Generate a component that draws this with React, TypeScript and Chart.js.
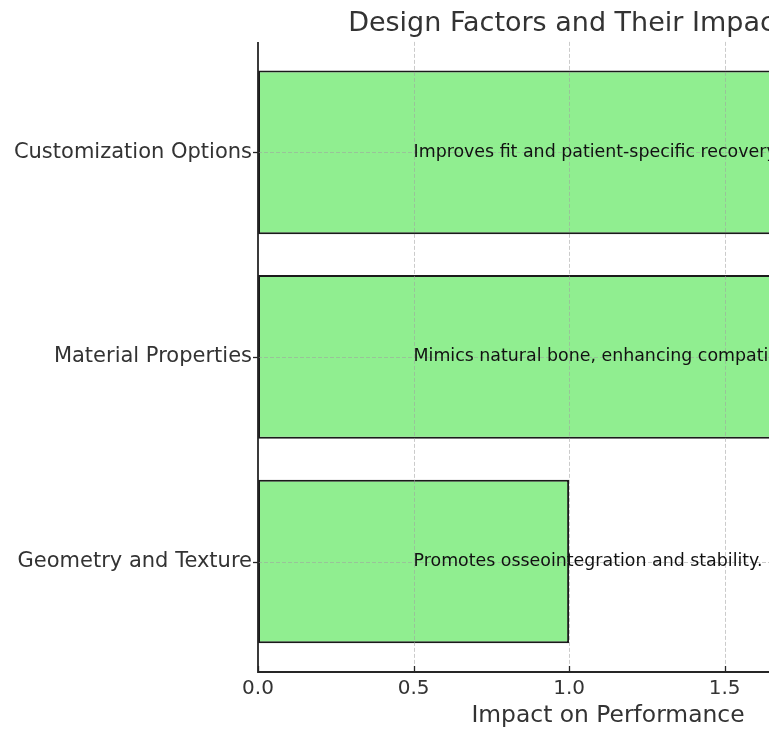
import React, { useEffect, useRef } from 'react';
import { Chart, registerables } from 'chart.js';

Chart.register(...registerables);

const categories = ['Geometry and Texture', 'Material Properties', 'Customization Options'];
const impactValues = [1, 2, 2];
const annotations = [
  'Promotes osseointegration and stability.',
  'Mimics natural bone, enhancing compatibility.',
  'Improves fit and patient-specific recovery.',
];
const annotationX = 0.5;
const xTickValues = [0, 0.5, 1.0, 1.5, 2.0];
const xMax = 2.25;
const chartTitle = 'Design Factors and Their Impact on Fit';
const xAxisTitle = 'Impact on Performance';

const FONT = "'DejaVu Sans', sans-serif";

const overlayPlugin = {
  id: 'overlay',
  afterDatasetsDraw(chart: any) {
    const { ctx, chartArea: a, scales } = chart;
    const xs = scales.x;
    const ys = scales.y;
    ctx.save();
    // grid lines over bars
    ctx.strokeStyle = 'rgba(160,160,160,0.55)';
    ctx.lineWidth = 1;
    ctx.setLineDash([4, 2]);
    xTickValues.forEach((v) => {
      if (v === 0) return;
      const px = Math.round(xs.getPixelForValue(v)) + 0.5;
      ctx.beginPath();
      ctx.moveTo(px, a.top);
      ctx.lineTo(px, a.bottom);
      ctx.stroke();
    });
    categories.forEach((_, i) => {
      const py = Math.round(ys.getPixelForValue(i)) + 0.5;
      ctx.beginPath();
      ctx.moveTo(a.left, py);
      ctx.lineTo(a.right, py);
      ctx.stroke();
    });
    ctx.setLineDash([]);
    // tick marks
    ctx.strokeStyle = '#262626';
    ctx.lineWidth = 1.3;
    categories.forEach((_, i) => {
      const py = Math.round(ys.getPixelForValue(i)) + 0.5;
      ctx.beginPath();
      ctx.moveTo(a.left - 5, py);
      ctx.lineTo(a.left, py);
      ctx.stroke();
    });
    xTickValues.forEach((v) => {
      const px = Math.round(xs.getPixelForValue(v)) + 0.5;
      ctx.beginPath();
      ctx.moveTo(px, a.bottom);
      ctx.lineTo(px, a.bottom - 6);
      ctx.stroke();
    });
    // spines
    ctx.strokeStyle = '#262626';
    ctx.lineWidth = 1.8;
    ctx.beginPath();
    ctx.moveTo(a.left, a.top);
    ctx.lineTo(a.left, a.bottom);
    ctx.lineTo(a.right, a.bottom);
    ctx.stroke();
    // annotations
    ctx.fillStyle = '#111111';
    ctx.font = `17.4px ${FONT}`;
    ctx.textAlign = 'left';
    ctx.textBaseline = 'middle';
    annotations.forEach((t, i) => {
      ctx.fillText(t, xs.getPixelForValue(annotationX), ys.getPixelForValue(i));
    });
    ctx.restore();
  },
};

export default function App() {
  const ref = useRef<HTMLCanvasElement | null>(null);
  useEffect(() => {
    if (!ref.current) return;
    const chart = new Chart(ref.current, {
      type: 'bar',
      data: {
        datasets: [
          {
            data: impactValues.map((v, i) => ({ x: v, y: i })),
            backgroundColor: '#90EE90',
            borderColor: '#1a1a1a',
            borderWidth: 2,
            borderSkipped: false,
            categoryPercentage: 0.8,
            barPercentage: 1,
          },
        ],
      },
      options: {
        indexAxis: 'y',
        animation: false,
        responsive: false,
        devicePixelRatio: 1,
        layout: { padding: { top: 0, left: 0, right: 42, bottom: 0 } },
        plugins: {
          legend: { display: false },
          tooltip: { enabled: false },
          title: {
            display: true,
            text: chartTitle,
            fullSize: false,
            color: '#333333',
            font: { family: FONT, size: 27, weight: 'normal' },
            padding: { top: 7.5, bottom: 2 },
          },
        },
        scales: {
          x: {
            type: 'linear',
            min: 0,
            max: xMax,
            afterBuildTicks: (scale: any) => {
              scale.ticks = xTickValues.map((v) => ({ value: v }));
            },
            afterFit: (scale: any) => {
              scale.height = 60;
            },
            grid: { display: false, drawTicks: false },
            border: { display: false },
            ticks: {
              color: '#333333',
              font: { family: FONT, size: 20 },
              padding: 5,
              maxRotation: 0,
              autoSkip: false,
              callback: (v: any) => Number(v).toFixed(1),
            },
            title: {
              display: true,
              text: xAxisTitle,
              color: '#333333',
              font: { family: FONT, size: 23.4 },
              padding: { top: 0, bottom: 2 },
            },
          },
          y: {
            type: 'linear',
            offset: false,
            min: -0.54,
            max: 2.54,
            afterBuildTicks: (scale: any) => {
              scale.ticks = categories.map((_, i) => ({ value: i }));
            },
            afterFit: (scale: any) => {
              scale.width = 258;
            },
            grid: { display: false, drawTicks: false, offset: false },
            border: { display: false },
            ticks: {
              color: '#333333',
              font: { family: FONT, size: 21 },
              padding: 6,
              autoSkip: false,
              callback: (v: any) => categories[Number(v)] ?? '',
            },
          },
        },
      },
      plugins: [overlayPlugin],
    } as any);
    return () => chart.destroy();
  }, []);
  return (
    <div
      style={{
        position: 'fixed',
        left: 0,
        top: 0,
        width: 769,
        height: 732,
        overflow: 'hidden',
        background: '#ffffff',
      }}
    >
      <canvas ref={ref} width={1000} height={732} style={{ display: 'block' }} />
    </div>
  );
}
